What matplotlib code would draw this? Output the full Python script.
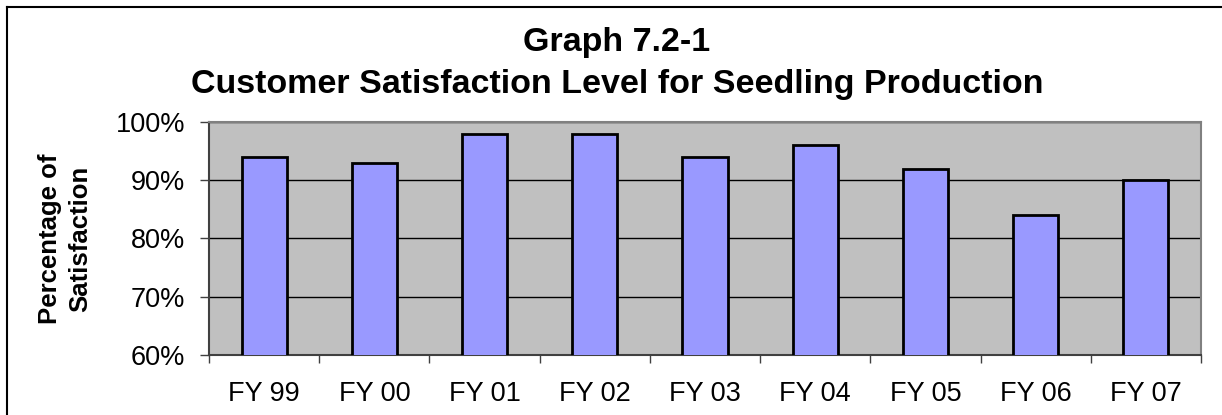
import matplotlib.pyplot as plt
from matplotlib.lines import Line2D
import numpy as np

plt.rcParams['font.family'] = ['Liberation Sans', 'DejaVu Sans']

years = ['FY 99', 'FY 00', 'FY 01', 'FY 02', 'FY 03', 'FY 04', 'FY 05', 'FY 06', 'FY 07']
satisfaction = [94, 93, 98, 98, 94, 96, 92, 84, 90]
y_ticks = [60, 70, 80, 90, 100]

W, H = 1222, 415
fig = plt.figure(figsize=(W / 100, H / 100), dpi=100)
ax = fig.add_axes([209 / W, 1 - 355 / H, (1201 - 209) / W, (355 - 122) / H])

x = np.arange(len(years))
ax.bar(x, satisfaction, width=0.41, color='#9999FF', edgecolor='black', linewidth=2, zorder=3)

ax.set_facecolor('#C0C0C0')
ax.set_xlim(-0.5, len(years) - 0.5)
ax.set_ylim(60, 100)
ax.set_yticks(y_ticks)
ax.set_yticklabels([f'{v}%' for v in y_ticks])
ax.yaxis.grid(True, color='black', linewidth=1, zorder=1)

# category labels centred, tick marks between categories
ax.set_xticks(x)
ax.set_xticklabels(years)
ax.set_xticks(np.arange(len(years) + 1) - 0.5, minor=True)
ax.tick_params(axis='x', which='major', length=0, pad=19, labelsize=19.5)
ax.tick_params(axis='x', which='minor', length=5.8, width=1, color='#404040')
ax.tick_params(axis='y', length=6.5, width=1, color='#404040', labelsize=19.5, pad=10.5)

for s in ax.spines.values():
    s.set_color('#808080')
    s.set_linewidth(1.5)
ax.spines['left'].set_color('#404040')
ax.spines['bottom'].set_color('#404040')

ax.set_ylabel('Percentage of\nSatisfaction', fontsize=18.5, fontweight='bold', linespacing=1.3)
ax.yaxis.set_label_coords((65 - 209) / 992, 0.5)
ax.yaxis.label.set_va('center')

fig.text(0.505, 1 - 43 / H, 'Graph 7.2-1', ha='center', va='center', fontsize=24.5, fontweight='bold')
fig.text(0.505, 1 - 85 / H, 'Customer Satisfaction Level for Seedling Production',
         ha='center', va='center', fontsize=24.5, fontweight='bold')

# outer chart-area border (left and top edges visible)
bx, by = 7 / W, 1 - 7 / H
fig.add_artist(Line2D([bx, bx], [0, by], color='black', linewidth=1.5))
fig.add_artist(Line2D([bx, 1], [by, by], color='black', linewidth=1.5))

fig.savefig('out.png', dpi=100)
